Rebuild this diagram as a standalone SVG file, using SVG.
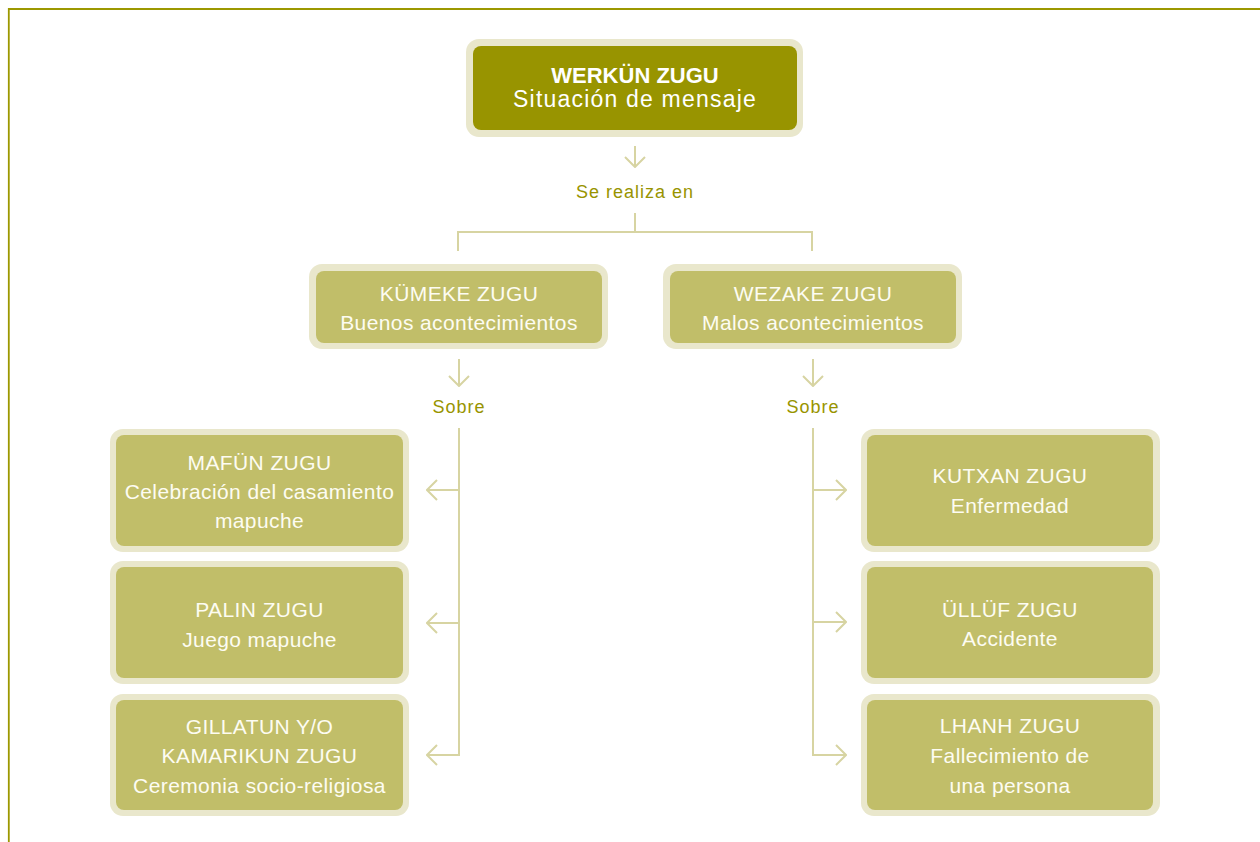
<svg xmlns="http://www.w3.org/2000/svg" width="1260" height="842" viewBox="0 0 1260 842">
<defs>
<style>
.halo{fill:#e9e7cc}
.box{fill:#c1be69}
.boxd{fill:#989400}
.t{font-family:"Liberation Sans",Arial,sans-serif;font-size:21px;letter-spacing:0.4px;fill:#fdfcf2;text-anchor:middle}
.tt{font-family:"Liberation Sans",Arial,sans-serif;font-size:23px;letter-spacing:1.2px;fill:#ffffff;text-anchor:middle}
.tb{font-weight:bold;font-size:22px;letter-spacing:0px}
.lbl{font-family:"Liberation Sans",Arial,sans-serif;font-size:18px;letter-spacing:1px;fill:#989400;text-anchor:middle}
.c{fill:none;stroke:#d7d4a2;stroke-width:2}
.frame{fill:none;stroke:#9c9800;stroke-width:1.8}
</style>
<marker id="chev" viewBox="0 0 12 22" refX="11" refY="11" markerWidth="12" markerHeight="22" markerUnits="userSpaceOnUse" orient="auto">
<path d="M1,1 L11,11 L1,21" fill="none" stroke="#d7d4a2" stroke-width="2"/>
</marker>
</defs>
<rect width="1260" height="842" fill="#ffffff"/>
<path class="frame" d="M8.8,842 V9 H1260"/>

<g id="connectors">
<path class="c" d="M635,146 V167" marker-end="url(#chev)"/>
<path class="c" d="M635,213 V232 M458,251 V232 H812 V251"/>
<path class="c" d="M459,359 V386" marker-end="url(#chev)"/>
<path class="c" d="M813,359 V386" marker-end="url(#chev)"/>
<path class="c" d="M459,428 V755 H427" marker-end="url(#chev)"/>
<path class="c" d="M459,490 H427" marker-end="url(#chev)"/>
<path class="c" d="M459,623 H427" marker-end="url(#chev)"/>
<path class="c" d="M813,428 V755 H846" marker-end="url(#chev)"/>
<path class="c" d="M813,490 H846" marker-end="url(#chev)"/>
<path class="c" d="M813,622 H846" marker-end="url(#chev)"/>
</g>

<g id="labels">
<text class="lbl" x="635" y="198">Se realiza en</text>
<text class="lbl" x="459" y="413">Sobre</text>
<text class="lbl" x="813" y="413">Sobre</text>
</g>

<g id="werkun">
<rect class="halo" x="466" y="39" width="337" height="98" rx="13"/>
<rect class="boxd" x="473" y="46" width="324" height="84" rx="8"/>
<text class="tt tb" x="635" y="83">WERKÜN ZUGU</text>
<text class="tt" x="635" y="107">Situación de mensaje</text>
</g>

<g id="kumeke">
<rect class="halo" x="309" y="264" width="299" height="85" rx="13"/>
<rect class="box" x="316" y="271" width="286" height="72" rx="8"/>
<text class="t" x="459" y="301">KÜMEKE ZUGU</text>
<text class="t" x="459" y="330">Buenos acontecimientos</text>
</g>

<g id="wezake">
<rect class="halo" x="663" y="264" width="299" height="85" rx="13"/>
<rect class="box" x="670" y="271" width="286" height="72" rx="8"/>
<text class="t" x="813" y="301">WEZAKE ZUGU</text>
<text class="t" x="813" y="330">Malos acontecimientos</text>
</g>

<g id="mafun">
<rect class="halo" x="110" y="429" width="299" height="123" rx="13"/>
<rect class="box" x="116" y="435" width="287" height="111" rx="8"/>
<text class="t" x="259.5" y="470">MAFÜN ZUGU</text>
<text class="t" x="259.5" y="499">Celebración del casamiento</text>
<text class="t" x="259.5" y="528">mapuche</text>
</g>

<g id="palin">
<rect class="halo" x="110" y="561" width="299" height="123" rx="13"/>
<rect class="box" x="116" y="567" width="287" height="111" rx="8"/>
<text class="t" x="259.5" y="617">PALIN ZUGU</text>
<text class="t" x="259.5" y="647">Juego mapuche</text>
</g>

<g id="gillatun">
<rect class="halo" x="110" y="694" width="299" height="122" rx="13"/>
<rect class="box" x="116" y="700" width="287" height="110" rx="8"/>
<text class="t" x="259.5" y="734">GILLATUN Y/O</text>
<text class="t" x="259.5" y="763">KAMARIKUN ZUGU</text>
<text class="t" x="259.5" y="793">Ceremonia socio-religiosa</text>
</g>

<g id="kutxan">
<rect class="halo" x="861" y="429" width="299" height="123" rx="13"/>
<rect class="box" x="867" y="435" width="286" height="111" rx="8"/>
<text class="t" x="1010" y="483">KUTXAN ZUGU</text>
<text class="t" x="1010" y="513">Enfermedad</text>
</g>

<g id="ullufe">
<rect class="halo" x="861" y="561" width="299" height="123" rx="13"/>
<rect class="box" x="867" y="567" width="286" height="111" rx="8"/>
<text class="t" x="1010" y="617">ÜLLÜF ZUGU</text>
<text class="t" x="1010" y="646">Accidente</text>
</g>

<g id="lhanh">
<rect class="halo" x="861" y="694" width="299" height="122" rx="13"/>
<rect class="box" x="867" y="700" width="286" height="110" rx="8"/>
<text class="t" x="1010" y="733">LHANH ZUGU</text>
<text class="t" x="1010" y="763">Fallecimiento de</text>
<text class="t" x="1010" y="793">una persona</text>
</g>
</svg>
